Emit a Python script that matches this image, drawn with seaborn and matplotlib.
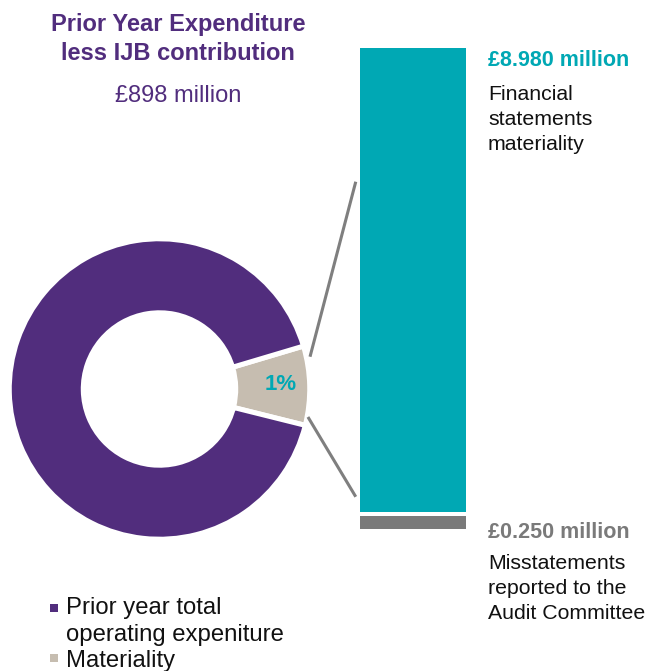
import matplotlib
matplotlib.use("Agg")
import matplotlib.pyplot as plt
from matplotlib.patches import Patch, Rectangle
from matplotlib.lines import Line2D
import seaborn as sns

# headline figure
headline_title = "Prior Year Expenditure\nless IJB contribution"
headline_value = "£898 million"

# donut: drawn shares (the materiality slice is enlarged so it can be read)
pie_labels = ["Materiality", "Prior year total\noperating expeniture"]
pie_share = [8.5, 91.5]
pie_colors = ["#c6bdb0", "#512d7d"]
slice_label = "1%"

# stacked bar, £ million
bar_names = ["Misstatements reported to the Audit Committee", "Financial statements materiality"]
bar_values = [0.250, 8.980]
bar_colors = ["#7a7a7a", "#00a8b4"]
bar_titles = ["£0.250 million", "£8.980 million"]
bar_notes = ["Misstatements\nreported to the\nAudit Committee", "Financial\nstatements\nmateriality"]

sns.set_theme(style="white")
plt.rcParams["font.family"] = ["Liberation Sans", "DejaVu Sans"]

W, H = 649, 671
fig = plt.figure(figsize=(W / 100, H / 100), dpi=100)

def fx(px):
    return px / W

def fy(py):
    return 1 - py / H

# donut
ax_pie = fig.add_axes([fx(11.5), fy(537), 296 / W, 296 / H])
wedges, _ = ax_pie.pie(pie_share, colors=pie_colors, startangle=-14, counterclock=True,
                       radius=1.015, wedgeprops=dict(width=0.5, edgecolor="white", linewidth=3.6))
ax_pie.set_xlim(-1, 1)
ax_pie.set_ylim(-1, 1)
ax_pie.set_aspect("equal")
ax_pie.axis("off")
ax_pie.text(0.82, 0.03, slice_label, color="#00a8b4", fontsize=16, fontweight="bold",
            ha="center", va="center")

# stacked bar
ax_bar = fig.add_axes([fx(360), fy(529), 106 / W, 481 / H])
gap = 0.08
bottoms = [0, bar_values[0] + gap]
for v, b, c in zip(bar_values, bottoms, bar_colors):
    ax_bar.bar(0, v, bottom=b, width=1.0, color=c, linewidth=0)
total = sum(bar_values) + gap
ax_bar.set_xlim(-0.5, 0.5)
ax_bar.set_ylim(0, total)
ax_bar.axis("off")

# connector lines from the slice edge to the bar
ax_pie.apply_aspect()
ax_bar.apply_aspect()
to_fig = fig.transFigure.inverted()
for a, b in [((1.017, 0.218), (-0.54, 0.722 * total)), ((1.003, -0.189), (-0.54, 0.067 * total))]:
    pa = to_fig.transform(ax_pie.transData.transform(a))
    pb = to_fig.transform(ax_bar.transData.transform(b))
    fig.add_artist(Line2D([pa[0], pb[0]], [pa[1], pb[1]], transform=fig.transFigure,
                          color="#7f7f7f", linewidth=2.2, solid_capstyle="butt"))

# headline texts (va=baseline aligns the last line)
fig.text(fx(178), fy(60), headline_title, color="#512d7d", fontsize=17, fontweight="bold",
         ha="center", va="baseline", linespacing=1.36)
fig.text(fx(178), fy(102), headline_value, color="#512d7d", fontsize=17,
         ha="center", va="baseline")

# bar annotations
fig.text(fx(488), fy(66), bar_titles[1], color=bar_colors[1], fontsize=15.5, fontweight="bold",
         va="baseline")
fig.text(fx(488), fy(150), bar_notes[1], color="#111111", fontsize=15.3, va="baseline",
         linespacing=1.4)
fig.text(fx(488), fy(538), bar_titles[0], color=bar_colors[0], fontsize=15.5, fontweight="bold",
         va="baseline")
fig.text(fx(488), fy(619), bar_notes[0], color="#111111", fontsize=15.3, va="baseline",
         linespacing=1.4)


# legend with the square marker next to the first line of each label
class TopSquare:
    def __init__(self, lift):
        self.lift = lift

    def legend_artist(self, legend, orig_handle, fontsize, handlebox):
        s = 5.8
        x0 = handlebox.xdescent
        y0 = -handlebox.ydescent + handlebox.height / 2 - s / 2 + self.lift
        sq = Rectangle((x0, y0), s, s, facecolor=orig_handle.get_facecolor(), edgecolor="none",
                       transform=handlebox.get_transform())
        handlebox.add_artist(sq)
        return sq


handles = [Patch(facecolor=c) for c in pie_colors[::-1]]
labels = pie_labels[::-1]
hmap = {h: TopSquare(9.6 * (lab.count("\n"))) for h, lab in zip(handles, labels)}
leg = fig.legend(handles, labels, loc="upper left", bbox_to_anchor=(fx(50), fy(597)),
                 frameon=False, fontsize=17.2, handlelength=0.35, handletextpad=0.3,
                 labelspacing=0.15, borderpad=0, borderaxespad=0, handler_map=hmap)
for t in leg.get_texts():
    t.set_linespacing(1.3)
    t.set_color("#111111")

fig.savefig("out.png", dpi=100)
